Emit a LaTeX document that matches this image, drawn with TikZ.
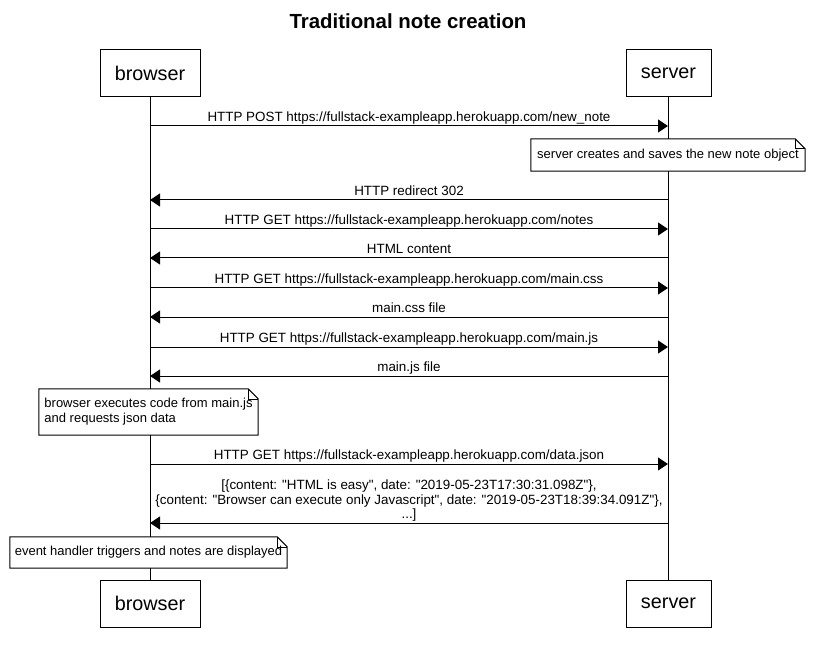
\documentclass[tikz,border=0pt]{standalone}
\usepackage{fontspec}
\setmainfont{Liberation Sans}[Ligatures=TeXOff]
\usetikzlibrary{arrows.meta}
\tikzset{
  actor/.style={draw, fill=white, line width=1pt, minimum height=47pt, font=\fontsize{19.8}{22}\selectfont},
  msg/.style={line width=1pt, -{Triangle[length=10pt,width=13pt]}},
  lbl/.style={midway, above, inner sep=1pt, text depth=3pt, align=center, font=\fontsize{13.4}{14.5}\selectfont},
  note/.style={fill=white, inner sep=0pt, align=left, font=\fontsize{13}{15}\selectfont},
}
% dog-eared outline around a note node
\newcommand\noteframe[1]{%
  \draw[line width=1pt] (#1.north west) -- ([xshift=-10pt]#1.north east) -- ([yshift=-10pt]#1.north east) -- (#1.south east) -- (#1.south west) -- cycle;
  \draw[line width=0.6pt] ([xshift=-10pt]#1.north east) -- ([xshift=-10pt,yshift=-10pt]#1.north east) -- ([yshift=-10pt]#1.north east);}
\begin{document}
\begin{tikzpicture}[x=1pt,y=-1pt]
\useasboundingbox (0,0) rectangle (815,650);
\node[font=\bfseries\fontsize{20.4}{23}\selectfont] (title) at (408,21) {Traditional note creation};
% actors
\node[actor, minimum width=100pt] (bt) at (150,73.5) {browser};
\node[actor, minimum width=85pt] (st) at (668.5,73.5) {server};
\node[actor, minimum width=100pt] (bb) at (150,603.5) {browser};
\node[actor, minimum width=85pt] (sb) at (668.5,603.5) {server};
\draw[line width=1pt] (bt) -- (bb);
\draw[line width=1pt] ([xshift=-0.5pt]st.south) -- ([xshift=-0.5pt]sb.north);
% ends of the messages on the lifelines
\foreach \n/\y in {1/126,2/200,3/229,4/258,5/288,6/317,7/347,8/376,9/464,10/523}{
  \coordinate (b\n) at (150,\y);
  \coordinate (s\n) at (668,\y);
}
\draw[msg] (b1) -- (s1) node[lbl]{HTTP POST https://fullstack-exampleapp.herokuapp.com/new\_note};
\node[note, minimum width=274pt, minimum height=32pt] (n1) at (668,155) {server creates and saves the new note object};
\noteframe{n1}
\draw[msg] (s2) -- (b2) node[lbl]{HTTP redirect 302};
\draw[msg] (b3) -- (s3) node[lbl]{HTTP GET https://fullstack-exampleapp.herokuapp.com/notes};
\draw[msg] (s4) -- (b4) node[lbl]{HTML content};
\draw[msg] (b5) -- (s5) node[lbl]{HTTP GET https://fullstack-exampleapp.herokuapp.com/main.css};
\draw[msg] (s6) -- (b6) node[lbl]{main.css file};
\draw[msg] (b7) -- (s7) node[lbl]{HTTP GET https://fullstack-exampleapp.herokuapp.com/main.js};
\draw[msg] (s8) -- (b8) node[lbl]{main.js file};
\node[note, minimum width=219pt, minimum height=46pt] (n2) at (148.5,412) {browser executes code from main.js\\and requests json data};
\noteframe{n2}
\draw[msg] (b9) -- (s9) node[lbl]{HTTP GET https://fullstack-exampleapp.herokuapp.com/data.json};
\draw[msg] (s10) -- (b10) node[lbl]{[\{content: "HTML is easy", date: "2019-05-23T17:30:31.098Z"\},\\\{content: "Browser can execute only Javascript", date: "2019-05-23T18:39:34.091Z"\},\\...]};
\node[note, minimum width=277pt, minimum height=31pt] (n3) at (148.5,552.5) {event handler triggers and notes are displayed};
\noteframe{n3}
\end{tikzpicture}
\end{document}
